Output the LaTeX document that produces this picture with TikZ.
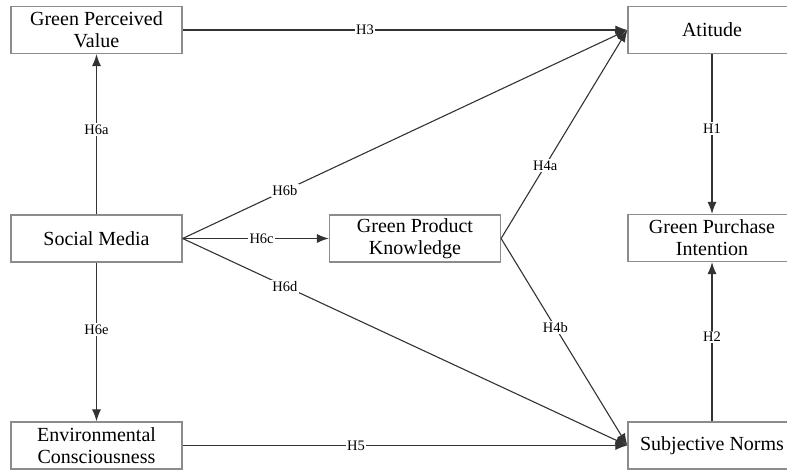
\documentclass[tikz,border=0pt]{standalone}
\usepackage{fontspec}
\setmainfont{Liberation Serif}
\usepackage{tikz}
\usetikzlibrary{arrows.meta,positioning}

\begin{document}
\begin{tikzpicture}[x=1pt,y=-1pt]
\tikzstyle{var}=[rectangle, draw=black!45, line width=1.2pt, fill=white, minimum width=171pt, minimum height=47pt, align=center, font=\fontsize{20}{22}\selectfont]
\tikzstyle{wide}=[minimum width=168pt]
\tikzstyle{connect}=[-{Latex[length=12pt,width=9pt]}, draw=black!80, line width=1.1pt]
\tikzstyle{hyp}=[fill=white, inner sep=1.5pt, font=\fontsize{14.5}{16}\selectfont]
  \useasboundingbox (0,0) rectangle (787,470);
  % left column
  \node[var] (GPV) at (96.5,30) {Green Perceived\\Value};
  \node[var] (SM) at (96.5,238.5) {Social Media};
  \node[var] (EC) at (96.5,445.5) {Environmental\\Consciousness};
  % middle
  \node[var] (GPK) at (415,238.5) {Green Product\\Knowledge};
  % right column
  \node[var, wide] (AT) at (712,30) {Atitude};
  \node[var, wide] (GPI) at (712,238) {Green Purchase\\Intention};
  \node[var, wide] (SN) at (712,445.5) {Subjective Norms};
  \path (SM) edge [connect] node[hyp, pos=.53] {H6a} (GPV)
        (SM) edge [connect] node[hyp, pos=.42] {H6e} (EC)
        (SM) edge [connect] node[hyp, pos=.54] {H6c} (GPK)
        (SM.east) edge [connect] node[hyp, pos=.23] {H6b} (AT.west)
        (SM.east) edge [connect] node[hyp, pos=.23] {H6d} (SN.west)
        (GPV.east) edge [connect] node[hyp, pos=.41] {H3} (AT.west)
        (EC.east) edge [connect] node[hyp, pos=.39] {H5} (SN.west)
        (GPK.east) edge [connect] node[hyp, pos=.35] {H4a} (AT.west)
        (GPK.east) edge [connect] node[hyp, pos=.43] {H4b} (SN.west)
        (AT) edge [connect] node[hyp, pos=.465] {H1} (GPI)
        (SN) edge [connect] node[hyp, pos=.53] {H2} (GPI);
\end{tikzpicture}
\end{document}
